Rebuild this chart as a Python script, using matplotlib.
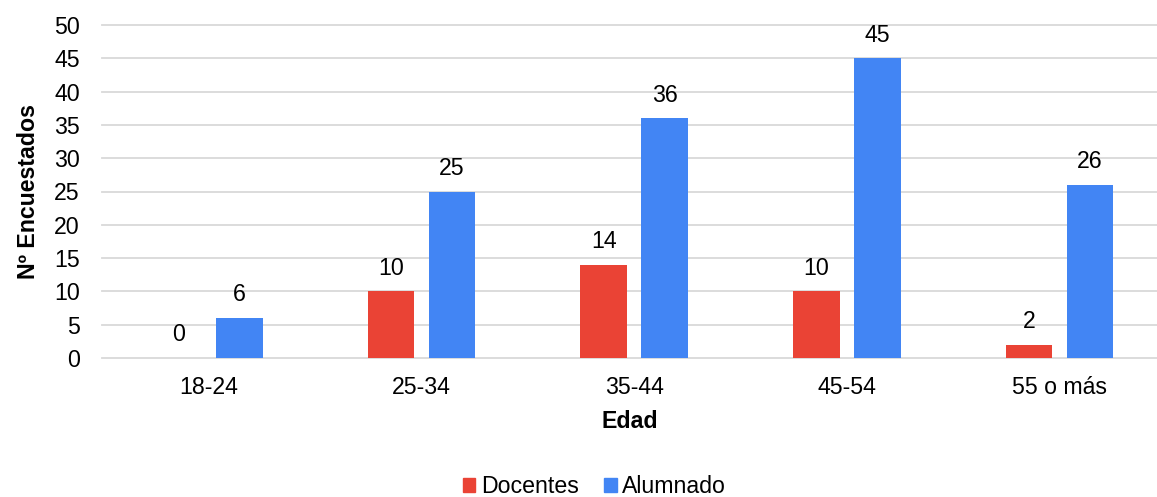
import matplotlib.pyplot as plt
import numpy as np
from matplotlib.patches import Patch

plt.rcParams['font.family'] = ['Liberation Sans', 'DejaVu Sans']

categorias = ['18-24', '25-34', '35-44', '45-54', '55 o más']
docentes = [0, 10, 14, 10, 2]
alumnado = [6, 25, 36, 45, 26]

rojo = '#EA4335'
azul = '#4285F4'
fs = 16.7

fig = plt.figure(figsize=(11.57, 4.97), dpi=100)
ax = fig.add_axes([102 / 1157, (497 - 358) / 497, (1157 - 102) / 1157, (358 - 25) / 497])

x = np.arange(len(categorias))
w = 0.22
off = 0.1435
b1 = ax.bar(x - off, docentes, w, color=rojo, zorder=3)
b2 = ax.bar(x + off, alumnado, w, color=azul, zorder=3)

for bars, vals in ((b1, docentes), (b2, alumnado)):
    for r, v in zip(bars, vals):
        ax.annotate(str(v), (r.get_x() + r.get_width() / 2, v), xytext=(0, 12),
                    textcoords='offset points', ha='center', va='baseline', fontsize=fs)

ax.set_xlim(-0.503, 4.459)
ax.set_ylim(0, 50)
ax.set_yticks(range(0, 51, 5))
ax.set_xticks(x)
ax.set_xticklabels(categorias)
ax.tick_params(axis='both', length=0, labelsize=fs)
ax.tick_params(axis='y', pad=16)
ax.tick_params(axis='x', pad=13)
for s in ax.spines.values():
    s.set_visible(False)
ax.yaxis.grid(True, color='#d9d9d9', linewidth=1.3, zorder=0)
for gl in ax.get_ygridlines():
    gl.set_clip_on(False)

ax.set_xlabel('Edad', fontsize=fs, fontweight='bold', labelpad=8)
ax.set_ylabel('Nº Encuestados', fontsize=fs, fontweight='bold', labelpad=10)

handles = [Patch(color=rojo, label='Docentes'), Patch(color=azul, label='Alumnado')]
fig.legend(handles=handles, loc='lower center', bbox_to_anchor=(0.514, -0.045), ncol=2,
           frameon=False, fontsize=fs, handlelength=0.52, handleheight=0.55,
           handletextpad=0.25, columnspacing=1.1)

fig.savefig('out.png', dpi=100)
